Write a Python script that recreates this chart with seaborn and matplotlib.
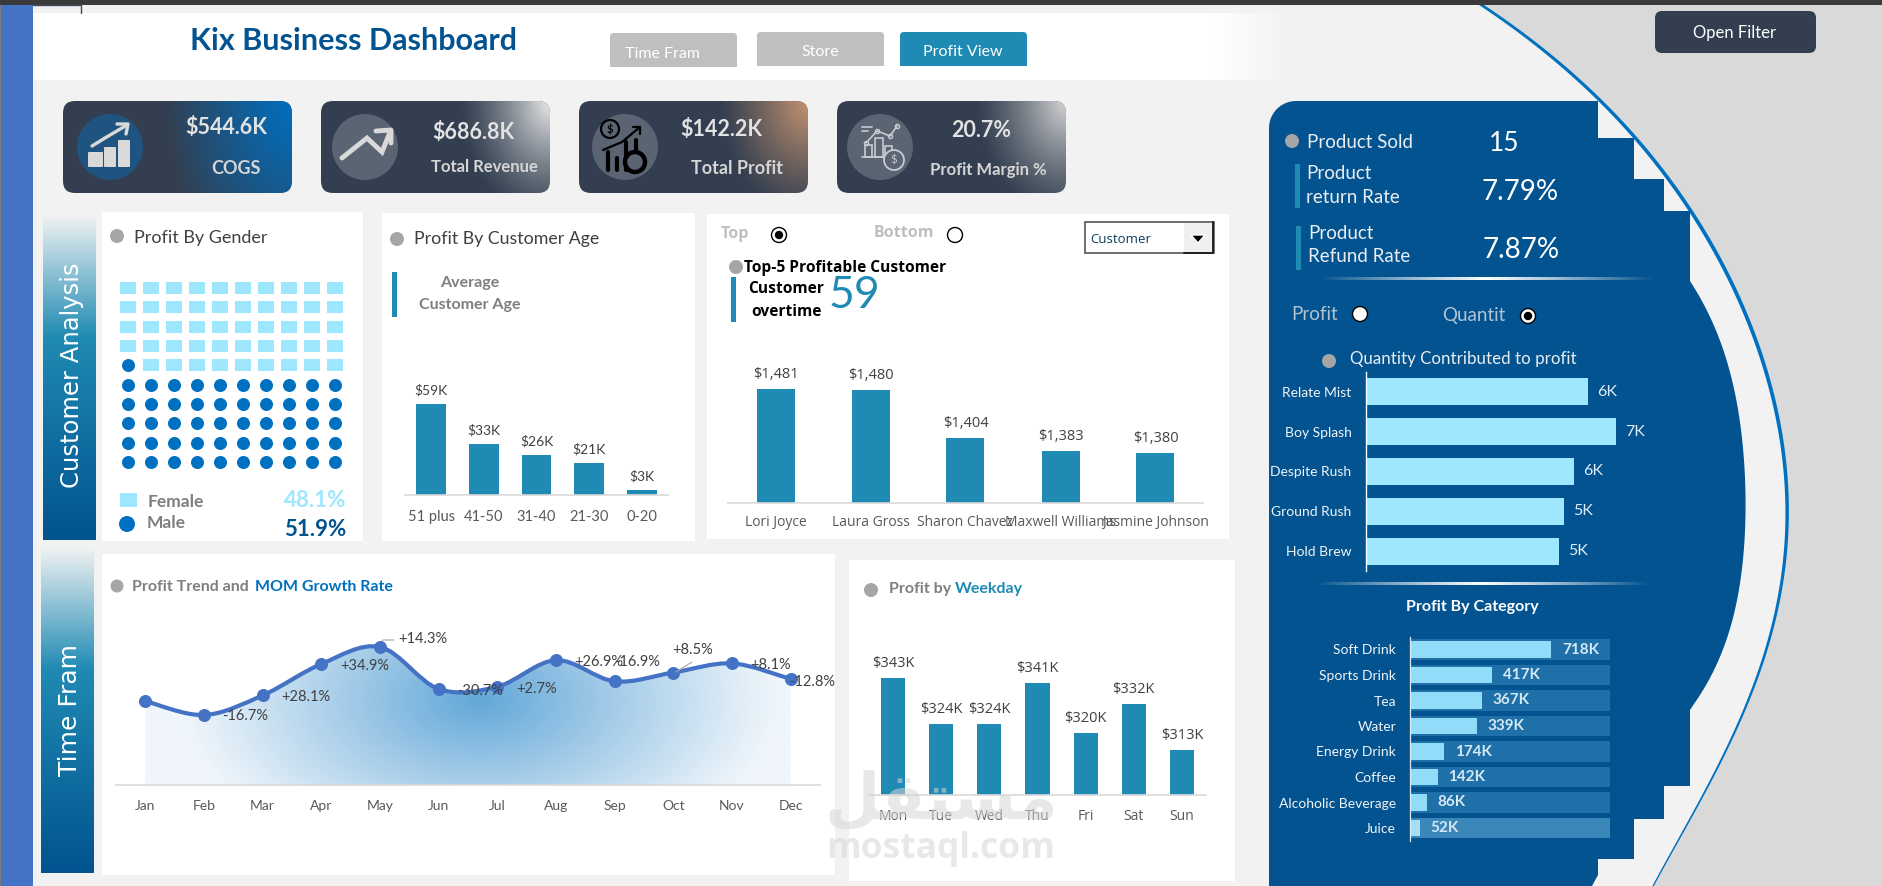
import numpy as np
import pandas as pd
import matplotlib
matplotlib.use("Agg")
import matplotlib.pyplot as plt
from matplotlib.colors import to_rgb
from matplotlib.patches import Circle, FancyBboxPatch, PathPatch, Polygon, Rectangle
from matplotlib.path import Path
import seaborn as sns

# ---- dashboard figures ----------------------------------------------------
kpi_values = ["$544.6K", "$686.8K", "$142.2K", "20.7%"]
kpi_names = ["COGS", "Total Revenue", "Total Profit", "Profit Margin %"]

gender_names = ["Female", "Male"]
gender_share = [48.1, 51.9]

age_groups = ["51 plus", "41-50", "31-40", "21-30", "0-20"]
age_profit_k = [59, 33, 26, 21, 3]

customers = ["Lori Joyce", "Laura Gross", "Sharon Chavez", "Maxwell Williams", "Jasmine Johnson"]
customer_profit = [1481, 1480, 1404, 1383, 1380]

months = ["Jan", "Feb", "Mar", "Apr", "May", "Jun", "Jul", "Aug", "Sep", "Oct", "Nov", "Dec"]
month_profit_k = [84, 70, 89.6, 121, 138, 96, 98.3, 124.8, 103.7, 112.5, 121.6, 106]
mom_growth = [None, -16.7, 28.1, 34.9, 14.3, -30.7, 2.7, 26.9, -16.9, 8.5, 8.1, -12.8]

weekdays = ["Mon", "Tue", "Wed", "Thu", "Fri", "Sat", "Sun"]
weekday_profit_k = [343, 324, 324, 341, 320, 332, 313]

products = ["Relate Mist", "Boy Splash", "Despite Rush", "Ground Rush", "Hold Brew"]
product_qty = [6000, 6760, 5620, 5350, 5220]

categories = ["Soft Drink", "Sports Drink", "Tea", "Water", "Energy Drink", "Coffee",
              "Alcoholic Beverage", "Juice"]
category_profit_k = [718, 417, 367, 339, 174, 142, 86, 52]
category_track_k = [1015] * 8

# ---- palette --------------------------------------------------------------
PAGE = "#f2f2f2"
NAVY = "#02538f"
SLATE = "#333f50"
TEAL = "#1f8ab3"
SKY = "#9fe6ff"
BLUE = "#0070c0"
LINE_BLUE = "#4472c4"
DOT = "#a6a6a6"
W, H = 1883, 886

sns.set_theme(style="white")
plt.rcParams["font.family"] = ["Lato", "DejaVu Sans"]
plt.rcParams["axes.unicode_minus"] = False

fig = plt.figure(figsize=(W / 100, H / 100), dpi=100, facecolor=PAGE)
base = fig.add_axes([0, 0, 1, 1], facecolor=PAGE)
base.set_xlim(0, W)
base.set_ylim(H, 0)
base.set_autoscale_on(False)
base.axis("off")


def label(x, y, s, size, color="#404040", weight="normal", ha="center", va="center", **kw):
    return base.text(x, y + 1, s, fontsize=size, color=color, fontweight=weight, ha=ha, va=va, zorder=6, **kw)


def box(x0, y0, x1, y1, color, z=2, **kw):
    base.add_patch(Rectangle((x0, y0), x1 - x0, y1 - y0, facecolor=color, edgecolor="none", zorder=z, **kw))


def dot(x, y, r=7, color=DOT):
    base.add_patch(Circle((x, y), r, facecolor=color, edgecolor="none", zorder=5))


def radio(x, y, filled, face="white"):
    base.add_patch(Circle((x, y), 7.5, facecolor=face, edgecolor="black", lw=1, zorder=5))
    if filled:
        base.add_patch(Circle((x, y), 4.2, facecolor="black", edgecolor="none", zorder=6))


def rounded(x0, y0, x1, y1, r, color, z=3):
    patch = FancyBboxPatch((x0 + r, y0 + r), x1 - x0 - 2 * r, y1 - y0 - 2 * r,
                           boxstyle=f"round,pad={r},rounding_size={r}",
                           facecolor=color, edgecolor="none", zorder=z)
    base.add_patch(patch)
    return patch


def vertical_ramp(x0, y0, x1, y1, stops, z=2):
    ys = np.linspace(0, 1, 256)
    rgb = np.array([np.interp(ys, [s[0] for s in stops], [to_rgb(s[1])[c] for s in stops]) for c in range(3)]).T
    base.imshow(rgb[:, None, :], extent=(x0, x1, y1, y0), aspect="auto", zorder=z)


def panel(left, right, top, bottom):
    ax = fig.add_axes([left / W, 1 - bottom / H, (right - left) / W, (bottom - top) / H], facecolor="none")
    ax.tick_params(length=0)
    ax.set_xlabel("")
    ax.set_ylabel("")
    return ax


def finish_columns(ax, low, high, tick_size, pad, tick_color="#595959", tick_family=None):
    ax.set_ylim(low, high)
    ax.set_xlabel("")
    ax.set_ylabel("")
    ax.set_yticks([])
    sns.despine(ax=ax, left=True)
    ax.spines["bottom"].set_color("#d9d9d9")
    ax.spines["bottom"].set_linewidth(1.2)
    ax.tick_params(axis="x", length=0, pad=pad, labelsize=tick_size, labelcolor=tick_color)
    if tick_family:
        for t in ax.get_xticklabels():
            t.set_family(tick_family)


# ---- page furniture -------------------------------------------------------
box(33, 13, 1400, 80, "white", z=0.5)
fade = np.ones((2, 256, 4))
fade[..., :3] = to_rgb(PAGE)
fade[..., 3] = np.clip(np.linspace(-0.4, 1.6, 256), 0, 1)
base.imshow(fade, extent=(1180, 1340, 80, 13), aspect="auto", zorder=0.6)
box(1340, 13, 1500, 80, PAGE, z=0.6)

arc_y = np.array([5, 100, 211, 281, 333, 450, 530, 607, 723, 786, 886], float)
arc_x = np.array([1482, 1598, 1693, 1728, 1756, 1781, 1786, 1777, 1744, 1703, 1654], float)
arc_fit = np.polyfit((arc_y - 450) / 450, arc_x, 5)
ys = np.linspace(5, 886, 300)
xs = np.polyval(arc_fit, (ys - 450) / 450)
stroke = np.interp(ys, [5, 500, 886], [5, 3.5, 1.5])
base.add_patch(Polygon(np.r_[np.c_[xs, ys], [[W, 886], [W, 5]]], closed=True, facecolor="#d9d9d9", edgecolor="none", zorder=1))
base.add_patch(Polygon(np.r_[np.c_[xs - stroke / 2, ys], np.c_[xs + stroke / 2, ys][::-1]], closed=True,
                       facecolor=BLUE, edgecolor="none", zorder=1.2))

box(0, 5, 33, H, "#4472c4", z=1)
box(0, 5, 1.5, H, "#7a7a7a", z=1.1)
box(0, 0, W, 4.5, "#3a3a3a", z=7)
base.plot([33, 81, 81], [5, 5, 13], color="#404b5a", lw=1, zorder=7)

label(354, 40, "Kix Business Dashboard", 22, NAVY, "bold")

for x0, x1, y0, y1, face, name, cx, cy in [
    (610, 737, 33, 67, "#bfbfbf", "Time Fram", 663, 53),
    (757, 884, 32, 66, "#bfbfbf", "Store", 820, 51),
    (900, 1027, 32, 66, TEAL, "Profit View", 963, 51),
]:
    rounded(x0, y0, x1, y1 + 4, 4, face, z=2)
    box(x0, y1, x1, y1 + 6, "white", z=2.2)
    label(cx, cy, name, 11.5, "white")

rounded(1655, 11, 1816, 53, 7, SLATE)
label(1735, 32, "Open Filter", 12, "white")

# ---- KPI tiles ------------------------------------------------------------
tile_spans = [(63, 292), (321, 550), (579, 808), (837, 1066)]
glows = [(BLUE, 125, 190, 0.9), ("#ececec", 92, 125, 1.35), ("#c59372", 88, 115, 1.1), ("#d6d6d6", 92, 120, 1.3)]
value_pos = [(226, 126), (473, 131), (721, 128), (981, 129)]
name_pos = [(236, 167), (484, 166), (737, 167), (988, 169)]
name_size = [13, 12, 13, 12]
disc_cx = [110, 365, 625, 880]
disc_col = ["#1f5480", "#5a6472", "#5a6472", "#5a6472"]
for (x0, x1), (glow, rx, ry, power), vp, np_, ns, val, nm, cx, dc in zip(
        tile_spans, glows, value_pos, name_pos, name_size, kpi_values, kpi_names, disc_cx, disc_col):
    tile = rounded(x0, 101, x1, 193, 12, SLATE)
    gx, gy = np.meshgrid(np.arange(x0, x1), np.arange(101, 193))
    d = np.hypot((x1 - gx) / rx, (gy - 101) / ry)
    img = np.ones(gx.shape + (4,))
    img[..., :3] = to_rgb(glow)
    img[..., 3] = np.clip(1 - d, 0, 1) ** power
    im = base.imshow(img, extent=(x0, x1, 193, 101), aspect="auto", zorder=3.5)
    im.set_clip_path(tile)
    base.add_patch(Circle((cx, 147), 33, facecolor=dc, edgecolor="none", zorder=4))
    label(vp[0], vp[1], val, 15.5, "#e2e2e2", "bold")
    label(np_[0], np_[1], nm, ns, "#d5d5d5", "bold")

ICON = "#d9d9d9"
# rising arrow over three columns
for xa, xb, top in [(88, 103, 152), (104, 116, 147), (118, 130, 140)]:
    base.add_patch(FancyBboxPatch((xa + 1, top + 1), xb - xa - 2, 165 - top, boxstyle="round,pad=1",
                                  facecolor=ICON, edgecolor="none", zorder=5))
base.plot([92, 105, 127], [146, 138, 125], color=ICON, lw=2.4, zorder=5)
base.plot([117, 128, 126], [124, 124, 134], color=ICON, lw=2.4, zorder=5)
# zigzag arrow
base.plot([342, 367, 382, 390], [158, 138, 152, 132], color=ICON, lw=3.5, zorder=5, solid_joinstyle="miter")
base.plot([376, 391, 391], [131, 130, 143], color=ICON, lw=3.5, zorder=5)
# profit glyph in black
base.add_patch(Circle((610, 129), 9, facecolor="none", edgecolor="black", lw=1.6, zorder=5))
base.text(610, 129, "$", fontsize=8, color="black", ha="center", va="center", zorder=5, fontweight="bold")
base.plot([603, 622, 640], [150, 142, 127], color="black", lw=1.6, zorder=5)
base.plot([633, 640, 640], [127, 127, 134], color="black", lw=1.6, zorder=5)
for xb, top in [(608, 152), (617, 158), (626, 142), (636, 140)]:
    base.plot([xb, xb], [top, 170], color="black", lw=3, zorder=5)
base.add_patch(Circle((635, 162), 10, facecolor="#5a6472", edgecolor="black", lw=3.2, zorder=5.2))
# margin glyph in outline
outline = "#c9ccd0"
base.plot([866, 877, 890, 897], [143, 131, 136, 126], color=outline, lw=1.2, marker="o", ms=3, mfc="none", zorder=5)
for xa, xb, top in [(865, 872, 145), (875, 883, 138), (885, 892, 146)]:
    base.add_patch(Rectangle((xa, top), xb - xa, 157 - top, facecolor="none", edgecolor=outline, lw=1.2, zorder=5))
base.plot([862, 896], [157, 157], color=outline, lw=1.2, zorder=5)
base.plot([862, 872], [127, 127], color=outline, lw=1.2, zorder=5)
base.plot([862, 868], [131, 131], color=outline, lw=1.2, zorder=5)
base.add_patch(Circle((894, 160), 10, facecolor="#5a6472", edgecolor=outline, lw=1.3, zorder=5.2))
base.text(894, 160, "$", fontsize=8, color=outline, ha="center", va="center", zorder=5.3)

# ---- section ribbons ------------------------------------------------------
ribbon = [(0, "#f4f4f4"), (0.38, TEAL), (1, NAVY)]
vertical_ramp(43, 213, 96, 540, ribbon)
vertical_ramp(41, 545, 94, 873, ribbon)
base.text(72, 375, "Customer Analysis", fontsize=17.5, color="white", rotation=90, ha="center", va="center",
          family="DejaVu Sans", zorder=6)
base.text(70, 710, "Time Fram", fontsize=18, color="white", rotation=90, ha="center", va="center",
          family="DejaVu Sans", zorder=6)

# ---- white chart cards ----------------------------------------------------
for x0, x1, y0, y1 in [(102, 363, 212, 541), (382, 695, 213, 541), (707, 1229, 214, 539),
                       (102, 835, 554, 875), (849, 1235, 560, 881)]:
    box(x0, y0, x1, y1, "white", z=1.5)

# ---- profit by gender ------------------------------------------------------
dot(117, 236)
label(134, 237, "Profit By Gender", 13, "#404040", ha="left")
male_cells = int(gender_share[1])
rows, cols = np.mgrid[0:10, 0:10]
waffle = pd.DataFrame({"row": rows.ravel(), "col": cols.ravel()})
waffle["gender"] = np.where(waffle["row"] * 10 + waffle["col"] < male_cells, "Male", "Female")
ax = panel(128 - 11.5, 335 + 11.5, 278.3, 471.7)
wide_square = Path([[-1, -0.81], [1, -0.81], [1, 0.81], [-1, 0.81], [-1, -0.81]], closed=True)
sns.scatterplot(data=waffle[waffle.gender == "Female"], x="col", y="row", marker=wide_square, s=123,
                color=SKY, linewidth=0, ax=ax, legend=False)
sns.scatterplot(data=waffle[waffle.gender == "Male"], x="col", y="row", marker="o", s=88,
                color=BLUE, linewidth=0, ax=ax, legend=False)
ax.set_xlim(-0.5, 9.5)
ax.set_ylim(-0.5, 9.5)
ax.axis("off")
box(120, 493, 137, 507, SKY, z=3)
dot(127, 524, 8, BLUE)
label(148, 501, gender_names[0], 12.5, "#7f7f7f", "bold", ha="left")
label(147, 522, gender_names[1], 12.5, "#7f7f7f", "bold", ha="left")
label(346, 499, f"{gender_share[0]}%", 16, SKY, "bold", ha="right")
label(346, 528, f"{gender_share[1]}%", 16, NAVY, "bold", ha="right")

# ---- profit by age ----------------------------------------------------------
dot(397, 239)
label(414, 238, "Profit By Customer Age", 12.8, "#404040", ha="left")
box(392, 272, 397, 317, TEAL, z=3)
label(470, 282, "Average", 11.5, "#7f7f7f", "bold")
label(470, 304, "Customer Age", 11.5, "#7f7f7f", "bold")
ax = panel(405, 668, 380, 495)
sns.barplot(x=age_groups, y=age_profit_k, color=TEAL, saturation=1, width=0.57, linewidth=0, ax=ax)
ax.bar_label(ax.containers[0], labels=[f"${v}K" for v in age_profit_k], padding=5.5, fontsize=10, color="#404040")
finish_columns(ax, 0, 115 / 1.54, 10.5, 10.5)

# ---- top customers ----------------------------------------------------------
label(735, 233, "Top", 11.5, "#bfbfbf", "bold", family="Open Sans")
radio(779, 235, True)
label(904, 232, "Bottom", 11.5, "#bfbfbf", "bold", family="Open Sans")
radio(955, 235, False)
box(1085, 222, 1214, 253, "white", z=3)
base.add_patch(Rectangle((1085, 222), 129, 31, facecolor="none", edgecolor="#555555", lw=1.2, zorder=4))
box(1184, 223, 1213, 252, "#f0f0f0", z=3.5)
base.plot([1213.5, 1213.5, 1184], [222, 253, 253], color="#222222", lw=1.4, zorder=4.2)
base.add_patch(Polygon([[1191, 235], [1205, 235], [1198, 243]], closed=True, facecolor="black", zorder=5))
label(1090, 238, "Customer", 9.5, "#0b3d5c", ha="left", family="Open Sans")
dot(736, 267)
label(744, 267, "Top-5 Profitable Customer", 11.2, "black", "bold", ha="left", family="Open Sans")
box(731, 277, 736, 322, TEAL, z=3)
label(786, 288, "Customer", 11.2, "black", "bold", family="Open Sans")
label(786, 311, "overtime", 11.2, "black", "bold", family="Open Sans")
label(854, 295, "59", 32, TEAL)
ax = panel(728, 1203, 330, 503)
sns.barplot(x=customers, y=customer_profit, color=TEAL, saturation=1, width=0.4, linewidth=0, ax=ax)
ax.bar_label(ax.containers[0], labels=[f"${v:,}" for v in customer_profit], padding=5, fontsize=10.5,
             color="#404040", family="Open Sans")
finish_columns(ax, 1301, 1301 + 173 / 0.634, 10, 8.5, tick_family="Open Sans")

# ---- profit trend -----------------------------------------------------------
dot(117, 586, 6.5)
label(132, 586, "Profit Trend and ", 11.5, "#7f7f7f", "bold", ha="left")
label(255, 586, "MOM Growth Rate", 11.5, BLUE, "bold", ha="left")
ax = panel(116, 820, 600, 785)
sns.scatterplot(x=months, y=month_profit_k, color=LINE_BLUE, s=88, linewidth=0, ax=ax, legend=False, zorder=4)
finish_columns(ax, 0, 185, 10, 10.5)
ax.set_xlim(-0.5, 11.5)

# smoothed spline through the monthly values
pts = np.c_[np.arange(len(month_profit_k), dtype=float), month_profit_k]
verts, codes = [pts[0]], [Path.MOVETO]
for i in range(len(pts) - 1):
    before = pts[max(i - 1, 0)]
    after = pts[min(i + 2, len(pts) - 1)]
    verts += [pts[i] + (pts[i + 1] - before) / 6, pts[i + 1] - (after - pts[i]) / 6, pts[i + 1]]
    codes += [Path.CURVE4] * 3
curve = Path(verts, codes)
area = Path(verts + [(pts[-1, 0], 0), (pts[0, 0], 0), pts[0]], codes + [Path.LINETO, Path.LINETO, Path.CLOSEPOLY])
gx, gy = np.meshgrid(np.linspace(116, 820, 350), np.linspace(600, 785, 150))
t = np.clip(1 - np.hypot((gx - 480) / 300, (gy - 700) / 175), 0, 1) ** 1.05
light, deep = np.array(to_rgb("#f0f6fb")), np.array(to_rgb("#62a7d8"))
shade = light + (deep - light) * t[..., None]
im = ax.imshow(shade, extent=(-0.5, 11.5, 0, 185), aspect="auto", zorder=1)
clip = PathPatch(area, transform=ax.transData, facecolor="none", edgecolor="none")
ax.add_patch(clip)
im.set_clip_path(clip)
ax.add_patch(PathPatch(curve, facecolor="none", edgecolor=LINE_BLUE, lw=3, zorder=3, capstyle="round"))
ax.set_xlim(-0.5, 11.5)
ax.set_ylim(0, 185)

growth_offsets = [None, (41, -1), (43, -2), (43.5, -2), (43, 8), (41.5, -2), (39.5, -2), (43, -2), (22.5, 19),
                  (19, 23), (39, -2), (21, -3)]
for i, (g, off) in enumerate(zip(mom_growth, growth_offsets)):
    if g is None:
        continue
    ax.annotate(f"{g:+.1f}%", xy=(i, month_profit_k[i]), xytext=off, textcoords="offset pixels", ha="center",
                va="center", fontsize=10.5, color="#404040", zorder=5, annotation_clip=False)
base.plot([379, 383, 394], [648, 640, 640], color="#a6a6a6", lw=0.8, zorder=6)
for xa, xb, ya, yb in [(676, 692, 672, 662)]:
    fig.add_artist(plt.Line2D([xa / W, xb / W], [1 - ya / H, 1 - yb / H], color="#a6a6a6", lw=0.8))

# ---- profit by weekday ------------------------------------------------------
dot(871, 590)
label(889, 588, "Profit by ", 11.5, "#7f7f7f", "bold", ha="left")
label(955, 588, "Weekday", 11.5, TEAL, "bold", ha="left")
ax = panel(869, 1206, 630, 795)
sns.barplot(x=weekdays, y=weekday_profit_k, color=TEAL, saturation=1, width=0.5, linewidth=0, ax=ax)
ax.bar_label(ax.containers[0], labels=[f"${v}K" for v in weekday_profit_k], padding=5, fontsize=10.5,
             color="#404040", family="Open Sans")
finish_columns(ax, 294.25, 294.25 + 165 / 2.4, 10, 10, tick_family="Open Sans")

# ---- navy product column -----------------------------------------------------
bulge_y = np.array([281, 333, 400, 450, 500, 573, 640, 673, 710], float)
bulge_x = np.array([1690, 1717, 1736, 1744, 1745, 1741, 1728, 1711, 1690], float)
by = np.linspace(281, 710, 80)
bx = np.polyval(np.polyfit((bulge_y - 500) / 200, bulge_x, 5), (by - 500) / 200)
bx[0], bx[-1] = 1690, 1690
corner = np.radians(np.linspace(180, 270, 12))
outline_pts = np.r_[
    np.c_[1269 + 27 + 27 * np.cos(corner), 101 + 27 + 27 * np.sin(corner)],
    [[1598, 101], [1598, 138], [1634, 138], [1634, 179], [1664, 179], [1664, 211], [1690, 211]],
    np.c_[bx, by],
    [[1690, 786], [1664, 786], [1664, 819], [1634, 819], [1634, 859], [1598, 859], [1598, 875], [1592, 886], [1269, 886]],
]
base.add_patch(Polygon(outline_pts, closed=True, facecolor=NAVY, edgecolor="none", zorder=2))

PALE = "#eaeef2"
dot(1292, 141)
label(1307, 141, "Product Sold", 13.5, PALE, ha="left")
label(1504, 142, "15", 19, "white")
box(1295, 164, 1300, 208, TEAL, z=3)
label(1306, 172, "Product", 13.5, PALE, ha="left")
label(1306, 196, "return Rate", 13.5, PALE, ha="left")
label(1520, 191, "7.79%", 20, "white")
box(1296, 226, 1301, 270, TEAL, z=3)
label(1308, 232, "Product", 13.5, PALE, ha="left")
label(1308, 256, "Refund Rate", 13.5, PALE, ha="left")
label(1521, 249, "7.87%", 20, "white")

for x0, x1, yy in [(1318, 1656, 279), (1313, 1651, 584)]:
    rule = np.ones((1, 256, 4))
    rule[..., 3] = 1 - np.abs(np.linspace(-1, 1, 256)) ** 1.1
    base.imshow(rule, extent=(x0, x1, yy + 1.5, yy - 1.5), aspect="auto", zorder=4)

label(1291, 313, "Profit", 13.5, "#b4c4d2", ha="left")
radio(1360, 314, False)
label(1442, 315, "Quantit", 13.5, "#b4c4d2", ha="left")
radio(1528, 316, True)
dot(1329, 361)
label(1350, 358, "Quantity Contributed to profit", 12.2, PALE, ha="left")

ax = panel(1366, 1679, 372, 571)
sns.barplot(y=products, x=product_qty, orient="h", color=SKY, saturation=1, width=0.68, linewidth=0, ax=ax)
ax.bar_label(ax.containers[0], labels=[f"{v / 1000:.0f}K" for v in product_qty], padding=6.5, fontsize=11.5,
             color="#dfeef8")
ax.set_xlim(0, 313 / 37 * 1000)
ax.set_xticks([])
ax.set_xlabel("")
ax.set_ylabel("")
sns.despine(ax=ax, bottom=True)
ax.spines["left"].set_color("white")
ax.spines["left"].set_linewidth(1)
ax.tick_params(axis="y", length=0, pad=10.5, labelsize=10, labelcolor="#f0f4f8")

label(1472, 606, "Profit By Category", 11.5, "white", "bold")
ax = panel(1410, 1610, 636.75, 840.75)
sns.barplot(y=categories, x=category_track_k, orient="h", color="#1f70a8", saturation=1, width=0.82, linewidth=0, ax=ax)
sns.barplot(y=categories, x=category_profit_k, orient="h", color="#91dcf9", saturation=1, width=0.66, linewidth=0, ax=ax)
ax.patches[7].set_facecolor("#3b87b9")
ax.patches[-1].set_facecolor("#a5dff3")
ax.bar_label(ax.containers[-1], labels=[f"{v}K" for v in category_profit_k], padding=7.5, fontsize=11,
             color="#d5e8f5", fontweight="bold")
ax.set_xlim(0, 200 / 0.197)
ax.set_xticks([])
ax.set_xlabel("")
ax.set_ylabel("")
sns.despine(ax=ax, bottom=True)
ax.spines["left"].set_color("#dfe8ef")
ax.spines["left"].set_linewidth(0.9)
ax.tick_params(axis="y", length=0, pad=10, labelsize=10, labelcolor="#f0f4f8")

# ---- site mark over the lower cards -------------------------------------------
top_layer = fig.add_axes([0, 0, 1, 1], facecolor="none")
top_layer.set_xlim(0, W)
top_layer.set_ylim(H, 0)
top_layer.axis("off")
top_layer.text(941, 800, "\uFEDE\uFED8\uFE98\uFEB4\uFEE3", fontsize=46, fontweight="bold", family="DejaVu Sans",
               color="#d4d6d6", alpha=0.55, ha="center", va="center")
top_layer.text(941, 849, "mostaql.com", fontsize=25.5, fontweight="bold", family="Open Sans",
               color="#d4d6d6", alpha=0.55, ha="center", va="center")

fig.savefig("out.png", dpi=100, facecolor=PAGE)
